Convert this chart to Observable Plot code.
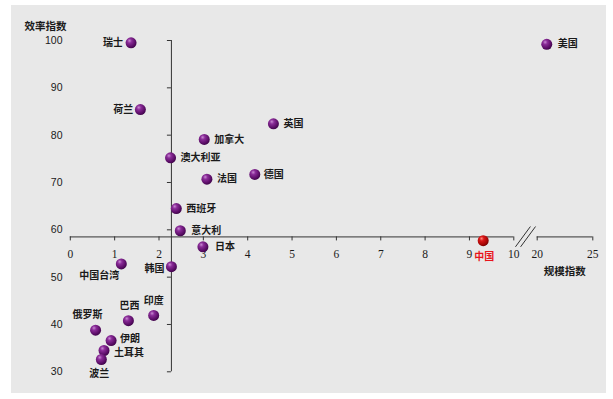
<!DOCTYPE html>
<html>
<head>
<meta charset="utf-8">
<script src="https://cdn.jsdelivr.net/npm/d3@7"></script>
<script src="https://cdn.jsdelivr.net/npm/@observablehq/plot@0.6"></script>
<style>
  html, body { margin: 0; padding: 0; background: #ffffff; }
  #wrap { position: relative; width: 613px; height: 399px; overflow: hidden; }
  #bg { position: absolute; left: 11px; top: 5px; width: 595px; height: 388px; background: #e8e8e8; }
  #chart { position: absolute; left: 0; top: 0; }
</style>
</head>
<body>
<div id="wrap"><div id="bg"></div><div id="chart"></div></div>
<script>
// ---- data ----
const names = ["瑞士","荷兰","英国","加拿大","澳大利亚","德国","法国","西班牙","意大利","日本","中国","美国","中国台湾","韩国","巴西","印度","俄罗斯","伊朗","土耳其","波兰"];
const sizeIndex = [1.37, 1.58, 4.58, 3.02, 2.26, 4.16, 3.08, 2.39, 2.48, 2.99, 9.31, 20.86, 1.15, 2.28, 1.31, 1.88, 0.57, 0.92, 0.76, 0.70];
const effIndex  = [99.5, 85.4, 82.4, 79.1, 75.2, 71.7, 70.7, 64.5, 59.8, 56.4, 57.7, 99.2, 52.8, 52.2, 40.8, 41.9, 38.8, 36.6, 34.5, 32.6];
const highlight = "中国";
const yTicks = [30, 40, 50, 60, 70, 80, 90, 100];
const xTicksLow = [0, 1, 2, 3, 4, 5, 6, 7, 8, 9, 10];
const xTicksHigh = [20, 25];
const crossX = 2.28;   // where the vertical axis crosses
const crossY = 58.5;   // where the horizontal axis crosses
const yLabel = "效率指数";
const xLabel = "规模指数";

// label placement (anchor, dx, dy)
const placement = {
  "瑞士": ["end", -8, 0], "荷兰": ["end", -7, 0], "韩国": ["end", -7, 2],
  "英国": ["start", 10, 0], "加拿大": ["start", 10, 0], "澳大利亚": ["start", 10, 0],
  "德国": ["start", 9, 0], "法国": ["start", 10, 0], "西班牙": ["start", 10, 0],
  "意大利": ["start", 11, 0], "日本": ["start", 12, 0], "美国": ["start", 11, 0],
  "伊朗": ["start", 9, -2], "土耳其": ["start", 10, 2],
  "巴西": ["middle", 1, -15], "印度": ["middle", 0, -15], "俄罗斯": ["middle", -8, -15],
  "中国": ["middle", 1, 16], "中国台湾": ["middle", -22, 12], "波兰": ["middle", -2, 14]
};

const data = names.map((n, i) => ({name: n, x: sizeIndex[i], y: effIndex[i]}));
const cjk = "'Noto Sans CJK SC', sans-serif";
const serif = "'Liberation Serif', 'DejaVu Serif', serif";

const labelMarks = data.map(d => {
  const [anchor, dx, dy] = placement[d.name];
  return Plot.text([d], {
    x: "x", y: "y", text: "name", textAnchor: anchor, dx, dy,
    fill: d.name === highlight ? "#e8141b" : "#1a1a1a",
    fontFamily: cjk, fontSize: 10, fontWeight: "bold"
  });
});

const chart = Plot.plot({
  width: 613,
  height: 399,
  marginLeft: 70,
  marginTop: 40,
  marginBottom: 28,
  marginRight: 20,
  style: {background: "transparent", overflow: "visible"},
  x: {type: "linear", domain: [0, 10, 20, 25], range: [69.8, 513.3, 536.7, 592.3], axis: null},
  y: {domain: [30, 100], range: [371.3, 40], axis: null},
  marks: [
    Plot.axisY(yTicks, {anchor: "left", tickSize: 0, tickPadding: 8, label: null,
      fontFamily: "'Liberation Sans', sans-serif", fontSize: 10.5, fill: "#1a1a1a"}),
    // vertical axis line through crossX
    Plot.ruleX([crossX], {y1: yTicks[0], y2: yTicks[yTicks.length - 1], stroke: "#333"}),
    Plot.ruleY(yTicks, {y: d => d, x1: crossX, x2: crossX, insetLeft: -4, insetRight: 0, stroke: "#333"}),
    // horizontal axis, two segments with a break
    Plot.ruleY([crossY], {x1: xTicksLow[0], x2: xTicksLow[xTicksLow.length - 1], stroke: "#333"}),
    Plot.ruleY([crossY], {x1: xTicksHigh[0], x2: xTicksHigh[xTicksHigh.length - 1], stroke: "#333"}),
    Plot.ruleX(xTicksLow.concat(xTicksHigh), {x: d => d, y1: crossY, y2: crossY, insetTop: 0, insetBottom: -4, stroke: "#333"}),
    Plot.text(xTicksLow.concat(xTicksHigh), {x: d => d, y: crossY, text: d => String(d), dy: 17,
      fontFamily: serif, fontSize: 11.5, fill: "#1a1a1a"}),
    // break marks between 10 and 20
    Plot.link([{a: 10.7, b: 17.1}, {a: 12.9, b: 19.3}], {x1: "a", x2: "b", y1: 56.4, y2: 60.7, stroke: "#333", strokeWidth: 1}),
    // axis titles
    Plot.text([yLabel], {frameAnchor: "top-left", dx: -25, dy: -18, textAnchor: "middle",
      fontFamily: cjk, fontSize: 10.5, fontWeight: "bold", fill: "#1a1a1a"}),
    Plot.text([xLabel], {x: xTicksHigh[xTicksHigh.length - 1], y: crossY, dx: -28, dy: 35, textAnchor: "middle",
      fontFamily: cjk, fontSize: 10.5, fontWeight: "bold", fill: "#1a1a1a"}),
    // points
    Plot.dot(data, {x: "x", y: "y", r: 5.5,
      fill: d => d.name === highlight ? "url(#gradRed)" : "url(#gradPurple)"}),
    ...labelMarks
  ]
});

// radial gradients for the spherical dots
const ns = "http://www.w3.org/2000/svg";
const defs = document.createElementNS(ns, "defs");
function grad(id, stops) {
  const g = document.createElementNS(ns, "radialGradient");
  g.setAttribute("id", id);
  g.setAttribute("cx", "38%"); g.setAttribute("cy", "35%"); g.setAttribute("r", "68%");
  g.setAttribute("fx", "35%"); g.setAttribute("fy", "30%");
  for (const [o, c] of stops) {
    const s = document.createElementNS(ns, "stop");
    s.setAttribute("offset", o); s.setAttribute("stop-color", c);
    g.appendChild(s);
  }
  defs.appendChild(g);
}
grad("gradPurple", [["0%", "#c88ad2"], ["30%", "#8a2c98"], ["75%", "#5c0e68"], ["100%", "#3e0448"]]);
grad("gradRed", [["0%", "#ff8a80"], ["30%", "#d81818"], ["75%", "#a80606"], ["100%", "#700000"]]);
chart.insertBefore(defs, chart.firstChild);

document.getElementById("chart").appendChild(chart);
</script>
</body>
</html>
